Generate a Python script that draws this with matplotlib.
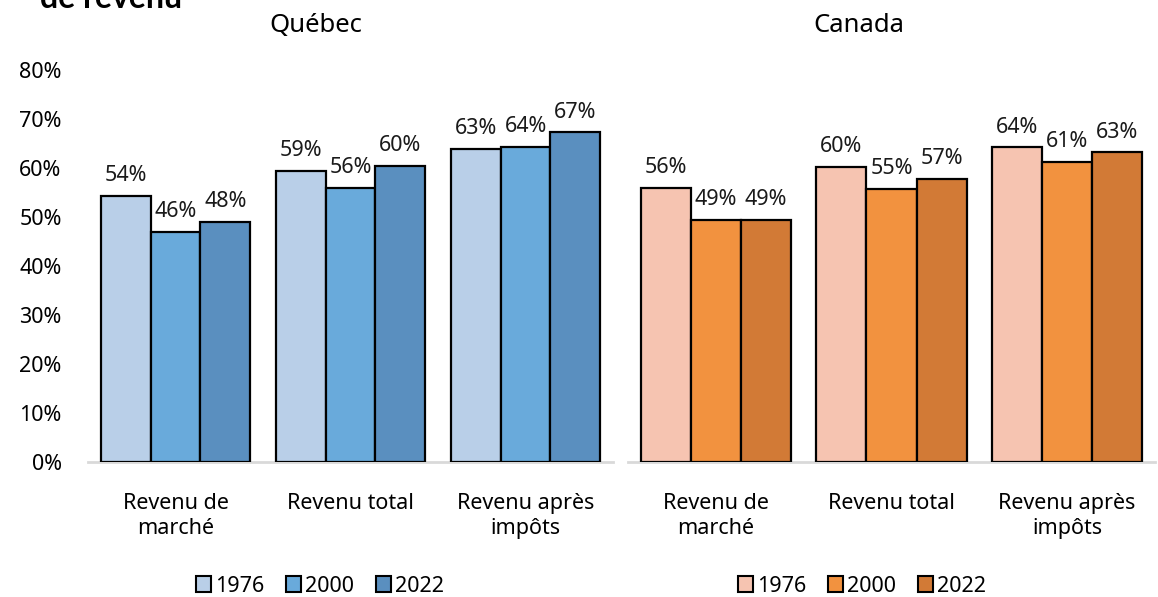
import matplotlib
matplotlib.use("Agg")
import matplotlib.pyplot as plt
from matplotlib.patches import Patch
import numpy as np

plt.rcParams['font.family'] = ['Noto Sans', 'DejaVu Sans']

categories = ["Revenu de\nmarché", "Revenu total", "Revenu après\nimpôts"]
years = ["1976", "2000", "2022"]

# bar heights (%), per year, per category
quebec_values = {
    "1976": [54.3, 59.4, 63.9],
    "2000": [46.9, 55.9, 64.3],
    "2022": [49.0, 60.4, 67.3],
}
quebec_labels = {
    "1976": ["54%", "59%", "63%"],
    "2000": ["46%", "56%", "64%"],
    "2022": ["48%", "60%", "67%"],
}
canada_values = {
    "1976": [55.9, 60.3, 64.2],
    "2000": [49.4, 55.8, 61.3],
    "2022": [49.4, 57.8, 63.2],
}
canada_labels = {
    "1976": ["56%", "60%", "64%"],
    "2000": ["49%", "55%", "61%"],
    "2022": ["49%", "57%", "63%"],
}
yticks = [0, 10, 20, 30, 40, 50, 60, 70, 80]
ytick_labels = ["0%", "10%", "20%", "30%", "40%", "50%", "60%", "70%", "80%"]

quebec_colors = ["#B9CFE8", "#69AADB", "#5A8FBF"]
canada_colors = ["#F6C4B1", "#F2923F", "#D27A36"]

W, H = 1158, 597
fig = plt.figure(figsize=(W / 100, H / 100), dpi=100)

FS = 15.5
bottom = (H - 462) / H
height = (462 - 70) / H
ax_q = fig.add_axes([88 / W, bottom, 525 / W, height])
ax_c = fig.add_axes([628 / W, bottom, 527 / W, height])

bw = 50 / 175.5
x = np.arange(len(categories))

def draw(ax, values, labels, colors, show_y):
    for j, yr in enumerate(years):
        pos = x + (j - 1) * bw
        bars = ax.bar(pos, values[yr], width=bw, color=colors[j],
                      edgecolor="black", linewidth=1.6, zorder=3)
        for b, lab in zip(bars, labels[yr]):
            ax.annotate(lab, (b.get_x() + b.get_width() / 2, b.get_height()),
                        xytext=(0, 7), textcoords="offset points",
                        ha="center", va="bottom", fontsize=FS, color="#1a1a1a")
    ax.set_ylim(0, 80)
    ax.set_xlim(-0.5, 2.5)
    ax.set_xticks(x)
    ax.set_xticklabels(categories, fontsize=FS, linespacing=1.25)
    ax.tick_params(axis="x", length=0, pad=22)
    ax.set_yticks(yticks)
    if show_y:
        ax.set_yticklabels(ytick_labels, fontsize=FS)
    else:
        ax.set_yticklabels([])
    ax.tick_params(axis="y", length=0, pad=19)
    for s in ["top", "right", "left"]:
        ax.spines[s].set_visible(False)
    ax.spines["bottom"].set_color("#D9D9D9")
    ax.spines["bottom"].set_linewidth(2)
    ax.spines["bottom"].set_zorder(2)

draw(ax_q, quebec_values, quebec_labels, quebec_colors, True)
draw(ax_c, canada_values, canada_labels, canada_colors, False)

fig.text(316 / W, 1 - 25 / H, "Québec", ha="center", va="center", fontsize=18.5)
fig.text(859 / W, 1 - 25 / H, "Canada", ha="center", va="center", fontsize=18.5)
fig.text(40 / W, 1 - 8 / H, "de revenu", ha="left", va="baseline",
         fontsize=23, fontweight="bold", family=["Lato", "DejaVu Sans"])

def legend(colors, cx):
    handles = [Patch(facecolor=c, edgecolor="black", linewidth=1.5) for c in colors]
    fig.legend(handles, years, loc="center", bbox_to_anchor=(cx / W, 1 - 586 / H),
               ncol=3, frameon=False, fontsize=FS, handlelength=0.7,
               handleheight=0.7, handletextpad=0.2, columnspacing=1.0)

legend(quebec_colors, 320)
legend(canada_colors, 862)

fig.savefig("out.png", dpi=100)
